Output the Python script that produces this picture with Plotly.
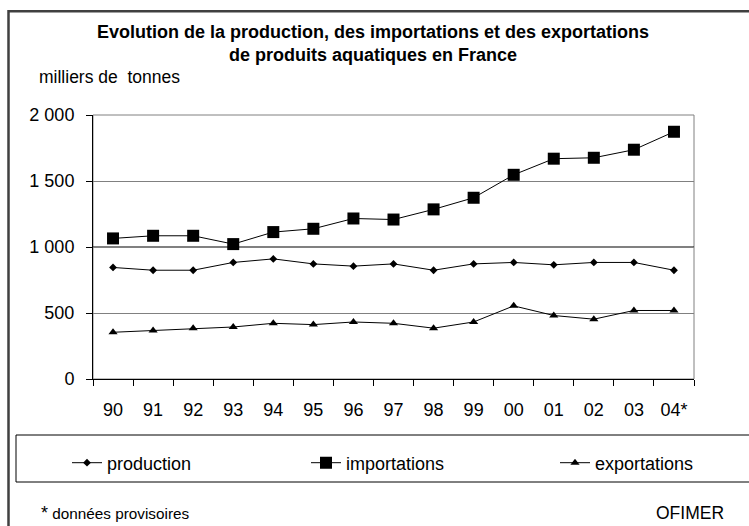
import plotly.graph_objects as go

years = ["90", "91", "92", "93", "94", "95", "96", "97", "98", "99", "00", "01", "02", "03", "04*"]
production = [845, 824, 824, 883, 910, 872, 855, 872, 824, 872, 883, 865, 883, 883, 824]
importations = [1065, 1085, 1085, 1022, 1113, 1138, 1216, 1208, 1285, 1373, 1547, 1669, 1676, 1737, 1873]
exportations = [354, 367, 385, 394, 422, 412, 432, 422, 385, 432, 554, 481, 453, 519, 519]
y_ticks = [0, 500, 1000, 1500, 2000]

FONT = "Liberation Sans, Arial, sans-serif"

# plot area in pixels
W, H = 749, 526
L, R, T, B = 93, 55, 115, 147
PW, PH = W - L - R, H - T - B


def px(x):
    return (x - L) / PW


def py(y):
    return (H - B - y) / PH


fig = go.Figure()
fig.add_trace(go.Scatter(x=years, y=production, name="production", mode="lines+markers",
                         line=dict(color="black", width=1), legend="legend",
                         marker=dict(symbol="diamond", size=6, color="black")))
fig.add_trace(go.Scatter(x=years, y=importations, name="importations", mode="lines+markers",
                         line=dict(color="black", width=1), legend="legend2",
                         marker=dict(symbol="square", size=12, color="black")))
fig.add_trace(go.Scatter(x=years, y=exportations, name="exportations", mode="lines+markers",
                         line=dict(color="black", width=1), legend="legend3",
                         marker=dict(symbol="triangle-up", size=8, color="black")))

shapes = [
    # plot area frame (gray)
    dict(type="rect", xref="paper", yref="paper", x0=0, x1=1, y0=0, y1=1,
         line=dict(color="#808080", width=1), layer="below"),
    # darker 1000 gridline
    dict(type="line", xref="paper", yref="y", x0=0, x1=1, y0=1000, y1=1000,
         line=dict(color="black", width=1), layer="below"),
    # legend box
    dict(type="rect", xref="paper", yref="paper", x0=px(16), x1=px(780), y0=py(482), y1=py(435),
         line=dict(color="black", width=1)),
    # outer frame
    dict(type="rect", xref="paper", yref="paper", x0=px(8.5), x1=px(800), y0=py(560), y1=py(11.3),
         line=dict(color="#404040", width=2.5)),
]

annotations = [
    dict(text="<b>Evolution de la production, des importations et des exportations<br>de produits aquatiques en France</b>",
         xref="paper", yref="paper", x=px(373), y=py(44), xanchor="center", yanchor="middle",
         showarrow=False, font=dict(family=FONT, size=18, color="black")),
    dict(text="milliers de\u00a0 tonnes", xref="paper", yref="paper", x=px(37), y=py(77),
         xanchor="left", yanchor="middle", showarrow=False,
         font=dict(family=FONT, size=17.5, color="black")),
    dict(text="<span style='font-size:18px'>*</span> données provisoires", xref="paper", yref="paper",
         x=px(39), y=py(513), xanchor="left", yanchor="middle", showarrow=False,
         font=dict(family=FONT, size=15.3, color="black")),
    dict(text="OFIMER", xref="paper", yref="paper", x=px(726), y=py(513),
         xanchor="right", yanchor="middle", showarrow=False,
         font=dict(family=FONT, size=17.5, color="black")),
]


def leg(xpix):
    return dict(orientation="h", xref="container", yref="container",
                x=xpix / W, y=1 - 463 / H, xanchor="left", yanchor="middle",
                font=dict(family=FONT, size=18, color="black"),
                bgcolor="rgba(0,0,0,0)", borderwidth=0)


fig.update_layout(
    width=W, height=H,
    margin=dict(l=L, r=R, t=T, b=B, pad=0),
    paper_bgcolor="white", plot_bgcolor="white",
    separators=", ",
    font=dict(family=FONT, size=18, color="black"),
    showlegend=True,
    legend=leg(67),
    legend2=leg(306),
    legend3=leg(555),
    shapes=shapes,
    annotations=annotations,
    xaxis=dict(type="category", range=[-0.5, len(years) - 0.5], showgrid=False,
               showline=True, linecolor="black", linewidth=1,
               ticks="outside", tickson="boundaries", ticklen=6, tickcolor="black",
               ticklabelstandoff=14, tickfont=dict(family=FONT, size=18, color="black"),
               fixedrange=True),
    yaxis=dict(range=[0, 2000], tickvals=y_ticks, tickformat=",d",
               showgrid=True, gridcolor="#808080", gridwidth=1, zeroline=False,
               showline=True, linecolor="black", linewidth=1,
               ticks="outside", ticklen=6, tickcolor="black",
               ticklabelstandoff=8, tickfont=dict(family=FONT, size=18, color="black"),
               fixedrange=True),
)

fig.write_html("out.html", config={"displayModeBar": False},
               post_script="document.body.style.margin='0';document.body.style.overflow='hidden';")
